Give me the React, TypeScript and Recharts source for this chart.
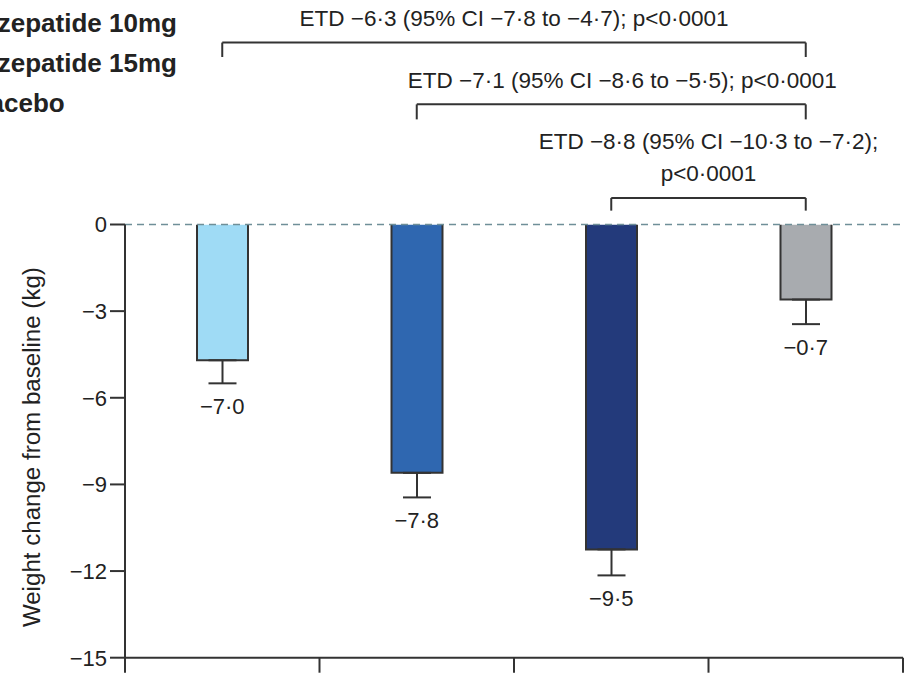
import React from 'react';
import {
  ComposedChart,
  Bar,
  Cell,
  Line,
  XAxis,
  YAxis,
  ReferenceLine,
  ErrorBar,
  LabelList,
  Label,
} from 'recharts';

// ---------- data ----------
const categories = ['Tirzepatide 5mg', 'Tirzepatide 10mg', 'Tirzepatide 15mg', 'Placebo'];
const meanChange = [-4.7, -8.6, -11.25, -2.6];
const errorLower = [0.8, 0.85, 0.9, 0.85];
const valueLabels = ['−7·0', '−7·8', '−9·5', '−0·7'];
const yTicks = [0, -3, -6, -9, -12, -15];
const xBoundaryTicks = [0, 1, 2, 3, 4];
const legendLabels = ['Tirzepatide 5mg', 'Tirzepatide 10mg', 'Tirzepatide 15mg', 'Placebo'];

const comparisonFrom = ['Tirzepatide 5mg', 'Tirzepatide 10mg', 'Tirzepatide 15mg'];
const comparisonTo = ['Placebo', 'Placebo', 'Placebo'];
const comparisonText = [
  ['ETD −6·3 (95% CI −7·8 to −4·7); p<0·0001'],
  ['ETD −7·1 (95% CI −8·6 to −5·5); p<0·0001'],
  ['ETD −8·8 (95% CI −10·3 to −7·2);', 'p<0·0001'],
];

// ---------- styling / layout ----------
const barColors = ['#9fdbf5', '#2f67b0', '#233a7b', '#a8abaf'];
const bracketLevel = [6.3, 4.16, 0.92];
const bracketDrop = [5.8, 3.64, 0.48];
const bracketTextDx = [0, 11, 0];
const FONT = "'Liberation Sans', Arial, sans-serif";
const INK = '#222';
const LINE = '#333';

const data = categories.map((name, i) => ({
  name,
  pos: i + 0.5,
  value: meanChange[i],
  err: [errorLower[i], 0],
  low: meanChange[i] - errorLower[i],
  label: valueLabels[i],
}));

const BarShape = (props: any) => {
  const { x, y, width, height, fill } = props;
  const top = Math.min(y, y + height);
  const h = Math.abs(height);
  const bottom = top + h;
  return (
    <g>
      <rect x={x} y={top} width={width} height={h} fill={fill} />
      <path
        d={`M${x},${top} L${x},${bottom} L${x + width},${bottom} L${x + width},${top}`}
        fill="none"
        stroke={LINE}
        strokeWidth={2}
      />
    </g>
  );
};

const ValueLabel = (props: any) => {
  const { x, y, value } = props;
  return (
    <text
      x={x}
      y={y + 23}
      textAnchor="middle"
      dominantBaseline="central"
      fontFamily={FONT}
      fontSize={22}
      fill={INK}
    >
      {value}
    </text>
  );
};

const makeBracketLabel = (lines: string[], dx: number) => (props: any) => {
  const vb = props.viewBox || {};
  const cx = vb.x + vb.width / 2 + dx;
  const n = lines.length;
  return (
    <g>
      {lines.map((t, k) => (
        <text
          key={k}
          x={cx}
          y={vb.y - 24 - (n - 1 - k) * 32}
          textAnchor="middle"
          dominantBaseline="central"
          fontFamily={FONT}
          fontSize={22.5}
          fill={INK}
        >
          {t}
        </text>
      ))}
    </g>
  );
};

const YTitle = (props: any) => {
  const vb = props.viewBox || {};
  const cx = vb.x + 32;
  const cy = vb.y + vb.height / 2 + 6;
  return (
    <text
      x={cx}
      y={cy}
      transform={`rotate(-90, ${cx}, ${cy})`}
      textAnchor="middle"
      dominantBaseline="central"
      fontFamily={FONT}
      fontSize={23.5}
      textLength={360}
      lengthAdjust="spacingAndGlyphs"
      fill={INK}
    >
      Weight change from baseline (kg)
    </text>
  );
};

const fmt = (v: number) => (v < 0 ? '−' + Math.abs(v) : String(v));

export default function App() {
  return (
    <div style={{ position: 'absolute', left: 0, top: 0, width: 912, height: 673 }}>
      <ComposedChart
        width={912}
        height={673}
        data={data}
        margin={{ top: 224.5, right: 9, bottom: 0, left: 0 }}
      >
        <XAxis
          xAxisId="grid"
          dataKey="pos"
          type="number"
          domain={[0, 4]}
          allowDataOverflow
          ticks={xBoundaryTicks}
          interval={0}
          tickFormatter={() => ''}
          tickSize={15}
          height={15.3}
          axisLine={{ stroke: LINE, strokeWidth: 2 }}
          tickLine={{ stroke: LINE, strokeWidth: 2 }}
        />
        <XAxis dataKey="name" type="category" hide height={0} />
        <YAxis
          type="number"
          domain={[-15, 0]}
          allowDataOverflow
          ticks={yTicks}
          interval={0}
          tickFormatter={fmt}
          width={125}
          tickSize={15}
          tickMargin={3}
          axisLine={{ stroke: LINE, strokeWidth: 2 }}
          tickLine={{ stroke: LINE, strokeWidth: 2 }}
          tick={{ fontSize: 22, fill: INK, fontFamily: FONT }}
        >
          <Label content={YTitle} />
        </YAxis>
        <Bar dataKey="value" barSize={51} shape={BarShape} isAnimationActive={false}>
          {data.map((d, i) => (
            <Cell key={d.name} fill={barColors[i]} />
          ))}
          <ErrorBar dataKey="err" direction="y" width={14} stroke={LINE} strokeWidth={2} />
        </Bar>
        <Line
          xAxisId="grid"
          dataKey="low"
          stroke="none"
          dot={false}
          activeDot={false}
          legendType="none"
          isAnimationActive={false}
        >
          <LabelList dataKey="label" content={ValueLabel} />
        </Line>
        <ReferenceLine y={0} stroke="#6f8f98" strokeWidth={1.6} strokeDasharray="7 5" />
        {comparisonFrom.map((from, i) => {
          const to = comparisonTo[i];
          return (
            <React.Fragment key={from}>
              <ReferenceLine
                segment={[
                  { x: from, y: bracketLevel[i] },
                  { x: to, y: bracketLevel[i] },
                ]}
                ifOverflow="visible"
                stroke={LINE}
                strokeWidth={2}
                label={makeBracketLabel(comparisonText[i], bracketTextDx[i])}
              />
              <ReferenceLine
                segment={[
                  { x: from, y: bracketLevel[i] },
                  { x: from, y: bracketDrop[i] },
                ]}
                ifOverflow="visible"
                stroke={LINE}
                strokeWidth={2}
              />
              <ReferenceLine
                segment={[
                  { x: to, y: bracketLevel[i] },
                  { x: to, y: bracketDrop[i] },
                ]}
                ifOverflow="visible"
                stroke={LINE}
                strokeWidth={2}
              />
            </React.Fragment>
          );
        })}
      </ComposedChart>
      <svg
        width={912}
        height={673}
        style={{ position: 'absolute', left: 0, top: 0, pointerEvents: 'none' }}
      >
        {legendLabels.map((t, i) => (
          <text
            key={t}
            x={-35}
            y={-8 + i * 40}
            fontFamily={FONT}
            fontWeight={700}
            fontSize={26}
            fill={INK}
          >
            {t}
          </text>
        ))}
      </svg>
    </div>
  );
}
